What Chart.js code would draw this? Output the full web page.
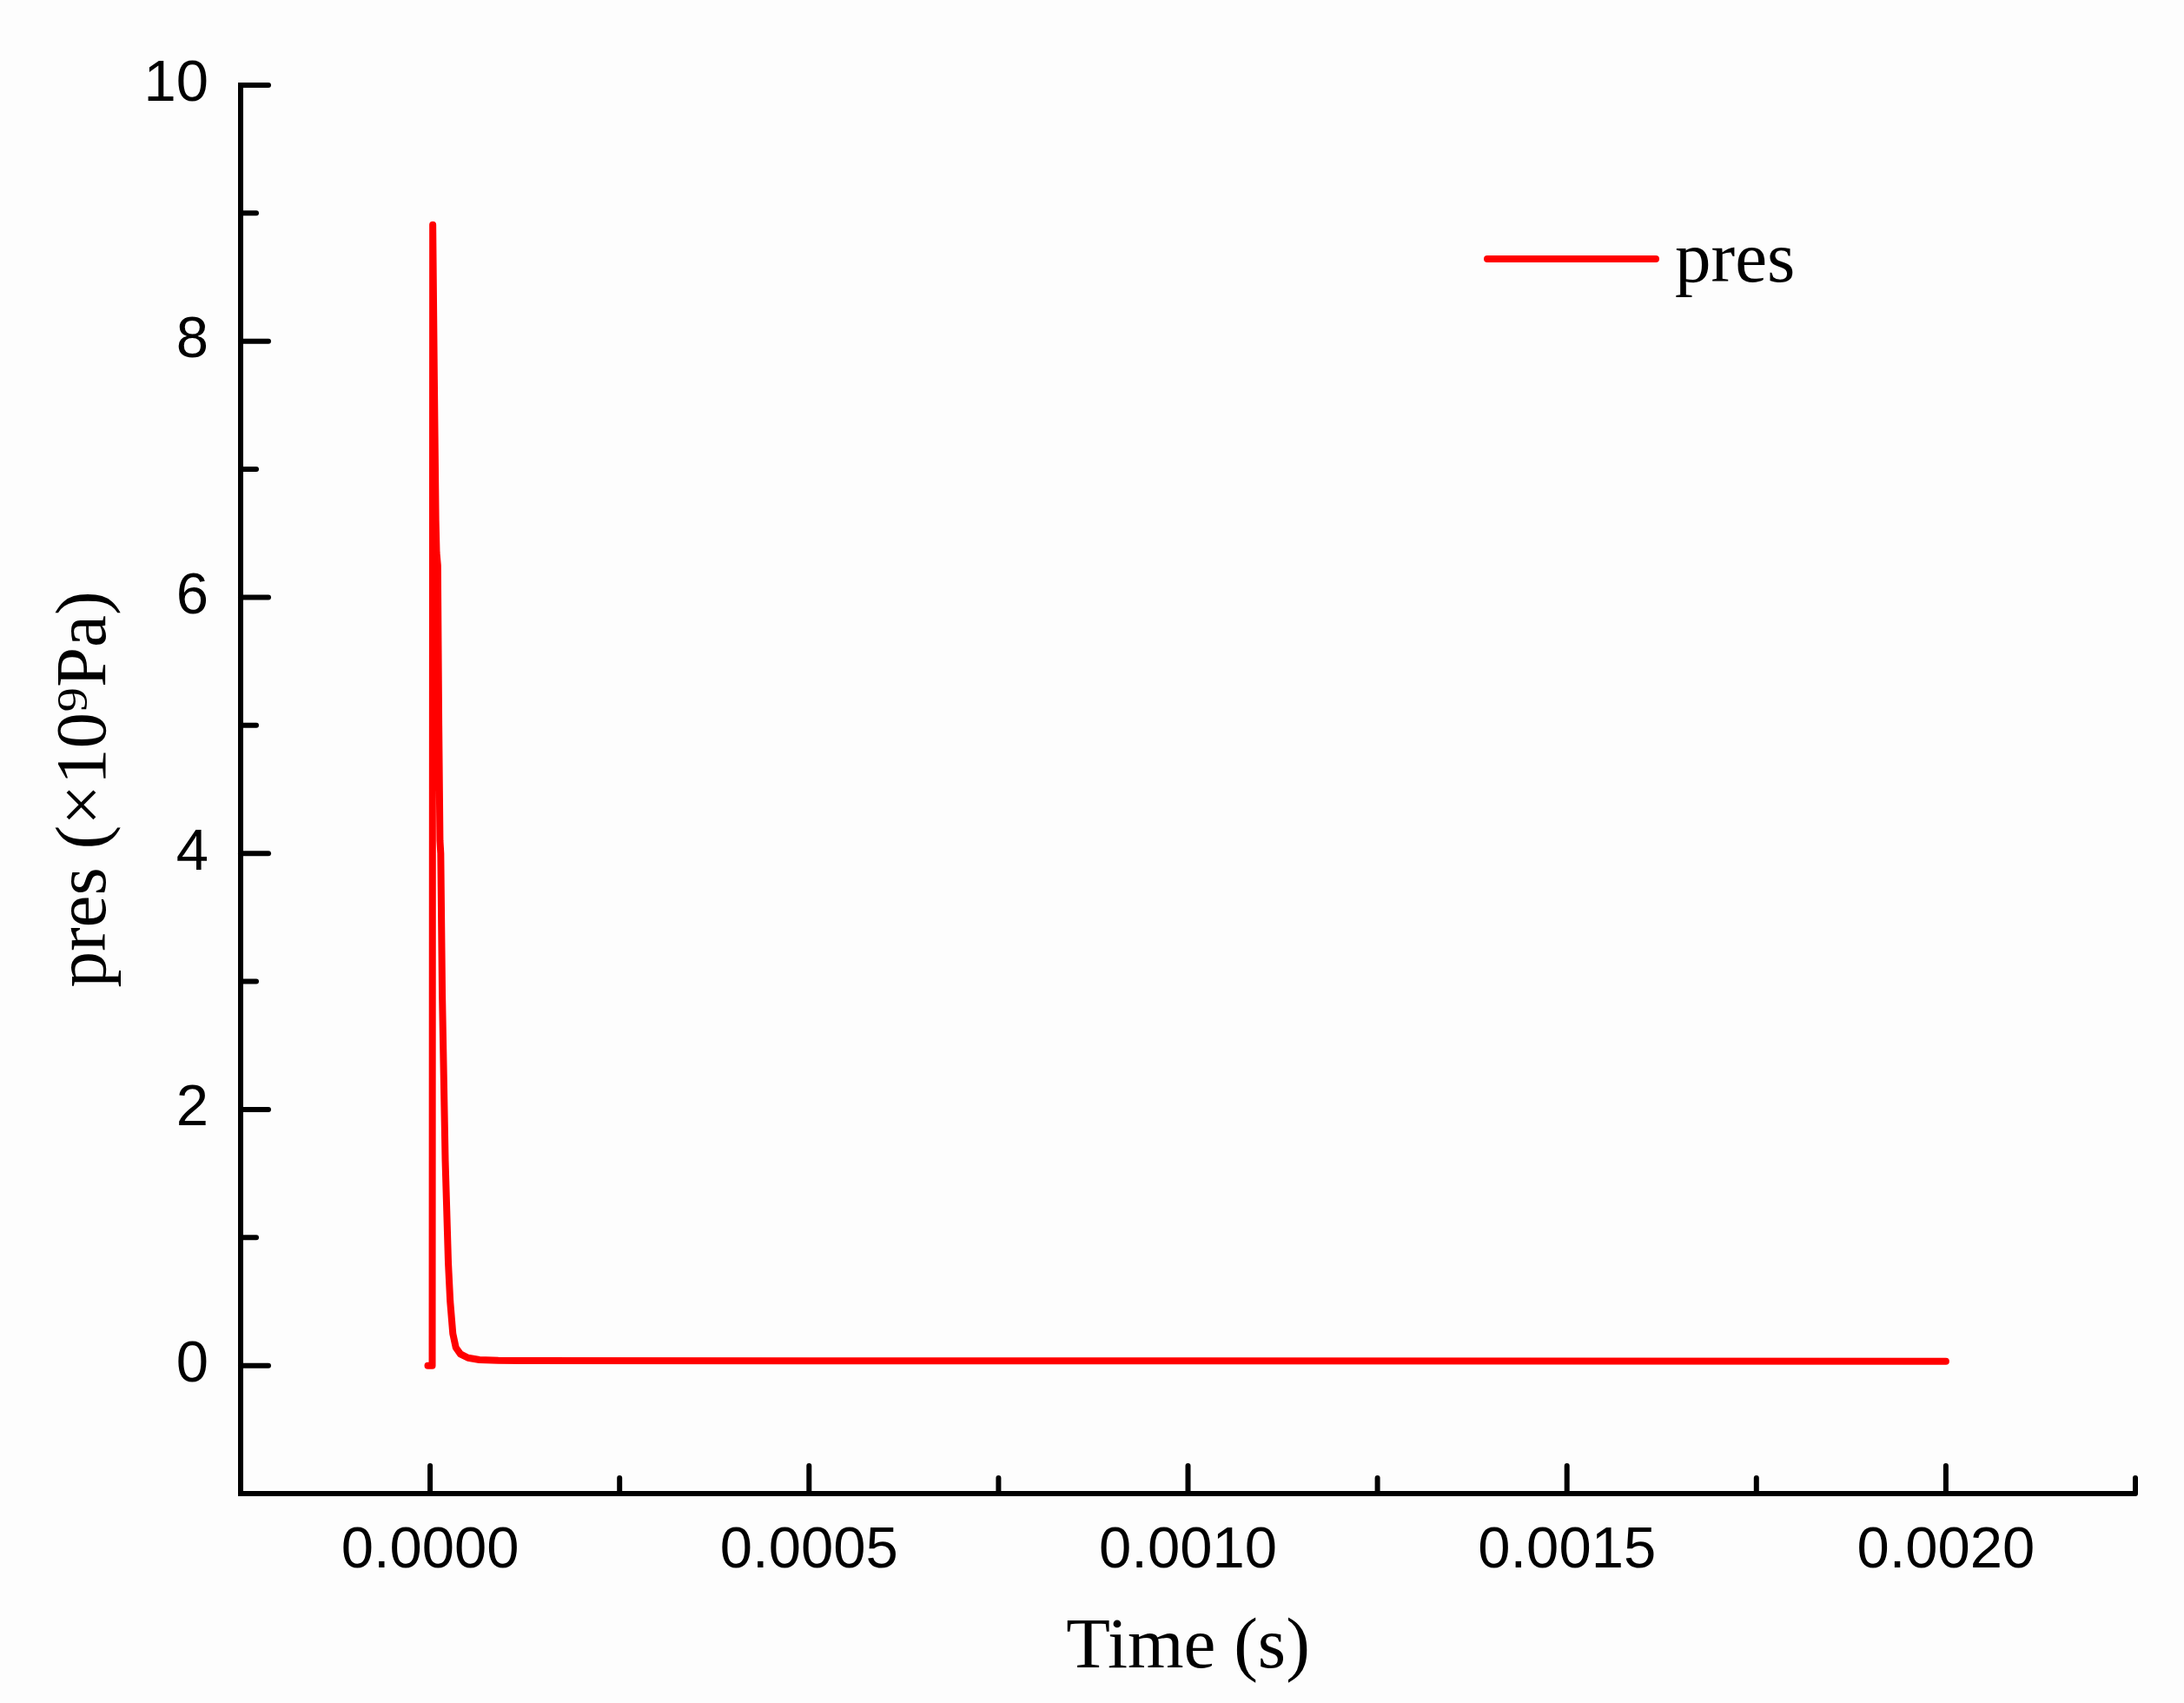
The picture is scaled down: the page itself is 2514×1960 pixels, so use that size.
<!DOCTYPE html>
<html lang="en">
  <head>
    <meta charset="UTF-8" />
    <meta name="viewport" content="width=device-width, initial-scale=1.0" />
    <script src="https://cdn.jsdelivr.net/npm/chart.js"></script>
    <style>
      body { margin: 0; background: #fdfdfd; }
    </style>
  </head>
  <body>
    <canvas id="myChart" width="2514" height="1960"></canvas>

    <script>
      // time (s) and pressure (x10^9 Pa)
      const timeS = [
        -0.000003, 0.0000028, 0.0000035, 0.0000055, 0.0000075, 0.0000085,
        0.00001, 0.0000115, 0.000013, 0.000014, 0.000016, 0.00002, 0.000024,
        0.0000265, 0.00003, 0.000034, 0.00004, 0.00005, 0.000065, 0.00009,
        0.00012, 0.0005, 0.001, 0.0015, 0.002,
      ];
      const pres = [
        0.0, 0.0, 8.91, 7.7, 6.6, 6.35,
        6.25, 5.0, 4.1, 4.0, 2.9, 1.6, 0.8,
        0.5, 0.25, 0.14, 0.09, 0.06, 0.045, 0.04,
        0.038, 0.037, 0.036, 0.035, 0.034,
      ];

      const xTickValues = [-0.00025, 0, 0.00025, 0.0005, 0.00075, 0.001, 0.00125, 0.0015, 0.00175, 0.002, 0.00225];
      const xTickLabels = ["", "0.0000", "", "0.0005", "", "0.0010", "", "0.0015", "", "0.0020", ""];
      const yTickValues = [-1, 0, 1, 2, 3, 4, 5, 6, 7, 8, 9, 10];
      const yTickLabels = ["", "0", "", "2", "", "4", "", "6", "", "8", "", "10"];

      const seriesName = "pres";
      const xTitle = "Time (s)";
      const yTitle = "pres (\u00d710\u2079Pa)";

      const tickFont = { family: "'Liberation Sans', Arial, sans-serif", size: 67 };
      const titleFont = { family: "'Liberation Serif', 'Times New Roman', serif", size: 83 };

      // ticks point into the plot, like the original
      const inwardTicks = {
        id: "inwardTicks",
        afterDraw(chart) {
          const c = chart.ctx;
          const { x, y } = chart.scales;
          c.save();
          c.strokeStyle = "#000";
          c.lineWidth = 6;
          c.lineCap = "round";
          x.ticks.forEach((t, i) => {
            const px = x.getPixelForValue(t.value);
            const len = xTickLabels[i] ? 32 : 18;
            c.beginPath();
            c.moveTo(px, x.top);
            c.lineTo(px, x.top - len);
            c.stroke();
          });
          y.ticks.forEach((t, i) => {
            const py = y.getPixelForValue(t.value);
            const len = yTickLabels[i] ? 32 : 18;
            c.beginPath();
            c.moveTo(y.right, py);
            c.lineTo(y.right + len, py);
            c.stroke();
          });
          c.restore();
        },
      };

      const lineLegend = {
        id: "lineLegend",
        afterDraw(chart) {
          const c = chart.ctx;
          const ds = chart.data.datasets[0];
          c.save();
          c.strokeStyle = ds.borderColor;
          c.lineWidth = 8;
          c.lineCap = "round";
          c.beginPath();
          c.moveTo(1712, 298);
          c.lineTo(1906, 298);
          c.stroke();
          c.fillStyle = "#000";
          c.font = titleFont.size + "px " + titleFont.family;
          c.textBaseline = "alphabetic";
          c.fillText(ds.label, 1928, 324);
          c.restore();
        },
      };

      const ctx = document.getElementById("myChart");
      const myChart = new Chart(ctx, {
        type: "line",
        data: {
          datasets: [
            {
              label: seriesName,
              data: timeS.map((t, i) => ({ x: t, y: pres[i] })),
              borderColor: "#ff0000",
              borderWidth: 8,
              pointRadius: 0,
              tension: 0,
              borderJoinStyle: "round",
              borderCapStyle: "round",
            },
          ],
        },
        options: {
          responsive: false,
          animation: false,
          layout: { padding: { top: 98, right: 56, left: 0, bottom: 0 } },
          plugins: {
            legend: { display: false },
            tooltip: { enabled: false },
          },
          scales: {
            x: {
              type: "linear",
              min: -0.00025,
              max: 0.00225,
              afterBuildTicks: (s) => { s.ticks = xTickValues.map((v) => ({ value: v })); },
              afterFit: (s) => { s.height = 241; },
              ticks: {
                autoSkip: false,
                maxRotation: 0,
                padding: 26,
                color: "#000",
                font: tickFont,
                callback: (v, i) => xTickLabels[i],
              },
              grid: { display: false, drawTicks: false },
              border: { display: true, color: "#000", width: 6 },
              title: {
                display: true,
                text: xTitle,
                color: "#000",
                font: titleFont,
                padding: { top: 0, bottom: 13 },
              },
            },
            y: {
              min: -1,
              max: 10,
              afterBuildTicks: (s) => { s.ticks = yTickValues.map((v) => ({ value: v })); },
              afterFit: (s) => { s.width = 277; },
              ticks: {
                autoSkip: false,
                padding: 37,
                color: "#000",
                font: tickFont,
                callback: (v, i) => yTickLabels[i],
              },
              grid: { display: false, drawTicks: false },
              border: { display: true, color: "#000", width: 6 },
              title: {
                display: true,
                text: yTitle,
                color: "#000",
                font: titleFont,
                padding: { top: 49, bottom: 0 },
              },
            },
          },
        },
        plugins: [inwardTicks, lineLegend],
      });
    </script>
  </body>
</html>
